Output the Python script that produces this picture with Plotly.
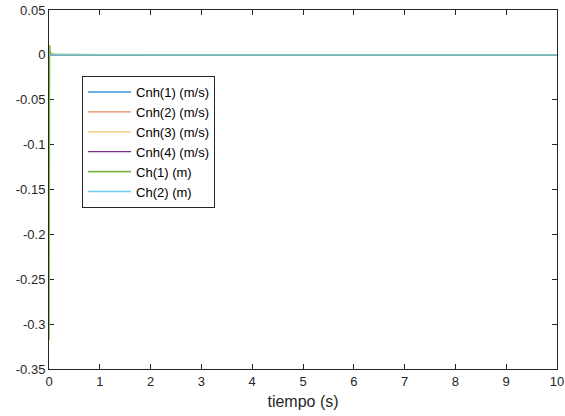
import plotly.graph_objects as go

t = [0, 0.01, 0.02, 0.03, 0.05, 0.1, 0.2, 0.5, 1, 2, 3, 4, 5, 6, 7, 8, 9, 10]
cnh1 = [0, 0.0005, 0.0003, 0.0002, 0.0001, 0, 0, 0, 0, 0, 0, 0, 0, 0, 0, 0, 0, 0]
cnh2 = [0, 0.0004, 0.0002, 0.0001, 0.0001, 0, 0, 0, 0, 0, 0, 0, 0, 0, 0, 0, 0, 0]
cnh3 = [0, 0.002, 0.0015, 0.0012, 0.001, 0.0008, 0.0006, 0.0004, 0.0003, 0.0002, 0.0001, 0, 0, 0, 0, 0, 0, 0]
cnh4 = [0, 0.0003, 0.0002, 0.0001, 0, 0, 0, 0, 0, 0, 0, 0, 0, 0, 0, 0, 0, 0]
ch1 = [-0.318, 0.011, 0.004, 0.002, 0.001, 0.0006, 0.0004, 0.0003, 0.0002, 0.0002, 0.0001, 0.0001, 0.0001, 0.0001, 0.0001, 0.0001, 0.0001, 0.0001]
ch2 = [0, 0.0002, 0.0001, 0, 0, 0, 0, 0, 0, 0, 0, 0, 0, 0, 0, 0, 0, 0]

names = ["Cnh(1) (m/s)", "Cnh(2) (m/s)", "Cnh(3) (m/s)", "Cnh(4) (m/s)", "Ch(1) (m)", "Ch(2) (m)"]
series = [cnh1, cnh2, cnh3, cnh4, ch1, ch2]
colors = ["#3f93d6", "#e8885c", "#efc86a", "#7e2f8e", "#82b44a", "#70cdf2"]
widths = [1.3, 1.3, 1.3, 1.3, 1.6, 1.3]

fig = go.Figure()
for n, s, c, w in zip(names, series, colors, widths):
    fig.add_trace(go.Scatter(x=t, y=s, mode="lines", name=n, line=dict(color=c, width=w)))

y_ticks = [-0.35, -0.3, -0.25, -0.2, -0.15, -0.1, -0.05, 0, 0.05]
y_labels = ["-0.35", "-0.3", "-0.25", "-0.2", "-0.15", "-0.1", "-0.05", "0", "0.05"]

axis_common = dict(showline=True, linecolor="#262626", linewidth=1, mirror="allticks",
                   ticks="inside", ticklen=5, tickcolor="#262626", showgrid=False, zeroline=False,
                   automargin=False, layer="below traces", ticklabeloverflow="allow",
                   tickfont=dict(family="Liberation Sans, Arial", size=13, color="#262626"))

fig.update_layout(
    width=565, height=416,
    margin=dict(l=49, r=8, t=10, b=47),
    paper_bgcolor="white", plot_bgcolor="white",
    xaxis=dict(range=[0, 10], tickvals=list(range(11)),
               title=dict(text="tiempo (s)", font=dict(family="Liberation Sans, Arial", size=16, color="#262626"), standoff=8),
               **axis_common),
    yaxis=dict(range=[-0.35, 0.05], tickvals=y_ticks, ticktext=y_labels, **axis_common),
    legend=dict(x=0.065, y=0.816, xanchor="left", yanchor="top",
                bgcolor="white", bordercolor="#262626", borderwidth=1,
                font=dict(family="Liberation Sans, Arial", size=13, color="#000000"),
                tracegroupgap=0, itemwidth=43),
    showlegend=True,
    hovermode=False,
)

fig.write_html("out.html",
               config={"displayModeBar": False, "staticPlot": True},
               post_script="document.body.style.margin='0';document.body.style.overflow='hidden';")
